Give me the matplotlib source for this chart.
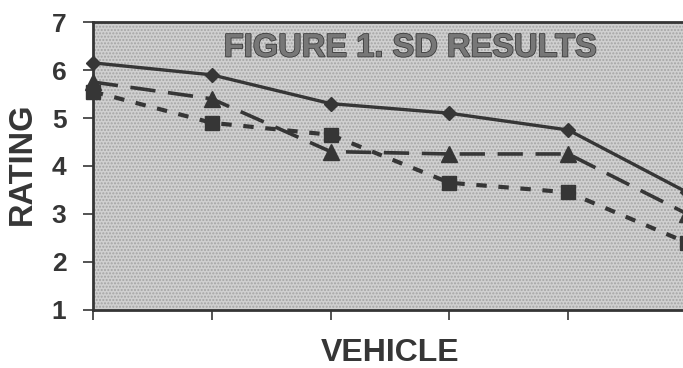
import numpy as np
import matplotlib.pyplot as plt
import matplotlib.patheffects as pe
from matplotlib.patches import Rectangle

# procitano sa slike
vehicles = [1, 2, 3, 4, 5, 6]
sd_solid = [6.15, 5.9, 5.3, 5.1, 4.75, 3.45]
sd_triangle = [5.75, 5.4, 4.3, 4.25, 4.25, 3.0]
sd_square = [5.55, 4.9, 4.65, 3.65, 3.45, 2.4]
yticks = [1, 2, 3, 4, 5, 6, 7]

plt.rcParams['font.family'] = ['Liberation Sans', 'DejaVu Sans']
ink = '#363636'

fig = plt.figure(figsize=(6.83, 3.68), dpi=100)
ax = fig.add_axes([0.136, 0.158, 0.870, 0.782])

# tockasta pozadina
ax.set_facecolor('#d0d0d0')
ax.add_patch(Rectangle((0, 0), 1, 1, transform=ax.transAxes, facecolor='none',
                       edgecolor='#a4a4a4', hatch='.....', lw=0, zorder=0))

ax.plot(vehicles, sd_solid, color=ink, lw=2.4, marker='D', ms=7,
        clip_on=False, zorder=5)
ax.plot(vehicles, sd_triangle, color=ink, lw=2.6, dashes=(7, 3.5),
        marker='^', ms=11, clip_on=False, zorder=4)
ax.plot(vehicles, sd_square, color=ink, lw=3.0, dashes=(2.5, 2.8),
        marker='s', ms=9.5, clip_on=False, zorder=3)

ax.set_xlim(1, 6)
ax.set_ylim(1, 7)
ax.set_xticks(vehicles)
ax.set_xticklabels([])
ax.set_yticks(yticks)
ax.set_yticklabels([str(t) for t in yticks], fontsize=19, fontweight='bold', color=ink)
ax.tick_params(axis='both', direction='out', length=7, width=1.2, color=ink, pad=12)
ax.tick_params(axis='x', pad=2)

for side in ['left', 'bottom', 'top']:
    ax.spines[side].set_color(ink)
    ax.spines[side].set_linewidth(2)
ax.spines['right'].set_visible(False)

ax.text(0.534, 0.91, 'FIGURE 1. SD RESULTS', transform=ax.transAxes,
        ha='center', va='center', fontsize=23.5, fontweight='bold',
        color='#777777',
        path_effects=[pe.withStroke(linewidth=1.2, foreground='#3c3c3c')])

fig.text(0.033, 0.554, 'RATING', rotation=90, ha='center', va='center',
         fontsize=23.5, fontweight='bold', color=ink)
fig.text(0.571, 0.04, 'VEHICLE', ha='center', va='center',
         fontsize=23, fontweight='bold', color=ink)

fig.savefig('out.png', dpi=100, facecolor='white')
